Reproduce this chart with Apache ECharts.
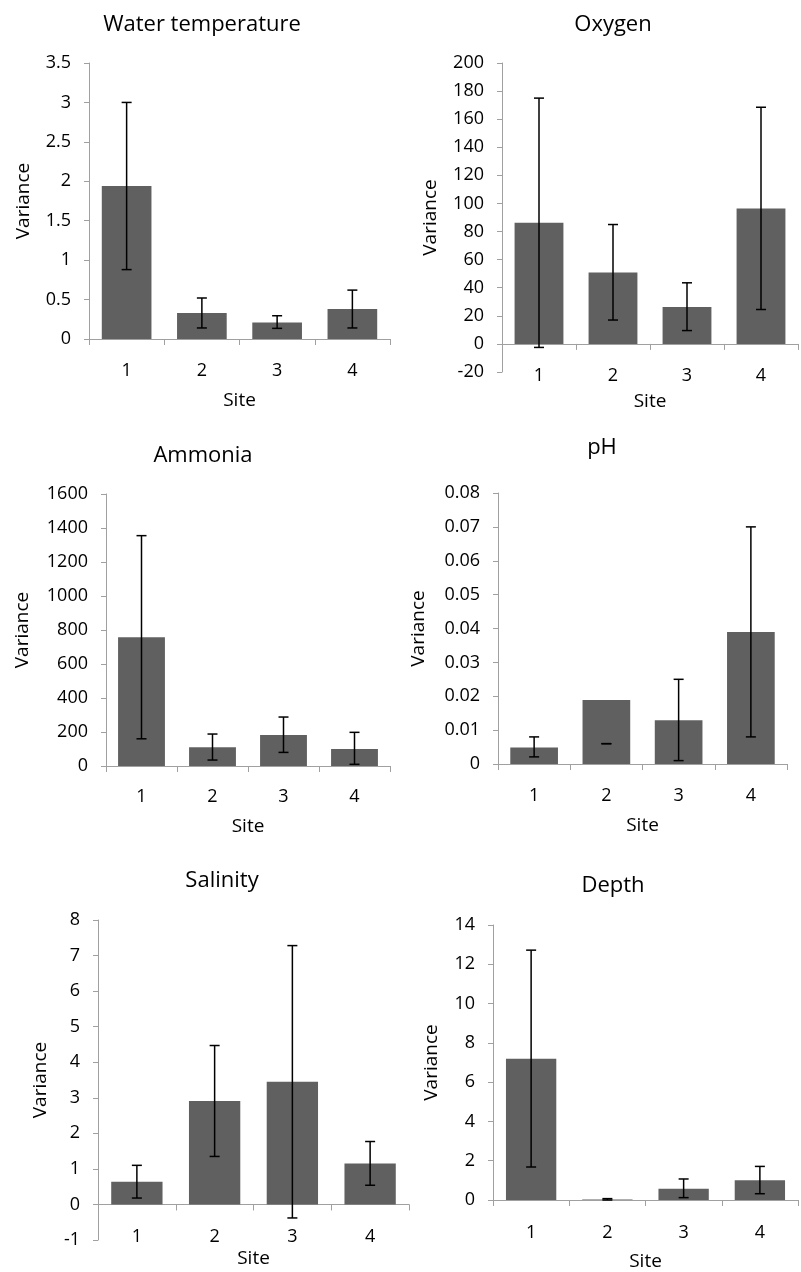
<!DOCTYPE html>
<html>
<head>
<meta charset="utf-8">
<script src="https://cdn.jsdelivr.net/npm/echarts@6/dist/echarts.min.js"></script>
<style>
  html, body { margin: 0; padding: 0; background: #fff; }
  #chart { width: 801px; height: 1272px; }
</style>
</head>
<body>
<div id="chart"></div>
<script>
const sites = ['1', '2', '3', '4']

// variance per site and the ends of each error bar
const tempVar = [1.94, 0.33, 0.21, 0.38]
const tempLow = [0.88, 0.14, 0.135, 0.14]
const tempHigh = [3.0, 0.52, 0.295, 0.62]

const oxyVar = [86.3, 50.9, 26.3, 96.4]
const oxyLow = [-2.5, 17, 9.5, 24.5]
const oxyHigh = [175, 85, 43.5, 168.5]

const ammVar = [758, 110, 182, 100]
const ammLow = [160, 35, 80, 10]
const ammHigh = [1355, 188, 288, 198]

const phVar = [0.0049, 0.0189, 0.0129, 0.039]
const phLow = [0.0021, 0.006, 0.001, 0.008]
const phHigh = [0.008, 0.006, 0.025, 0.07]

const salVar = [0.64, 2.91, 3.45, 1.15]
const salLow = [0.18, 1.35, -0.38, 0.54]
const salHigh = [1.1, 4.47, 7.28, 1.77]

const depVar = [7.19, 0.03, 0.57, 1.01]
const depLow = [1.68, 0.0, 0.12, 0.32]
const depHigh = [12.72, 0.07, 1.07, 1.71]

const panels = [
  {title: 'Water temperature', values: tempVar, low: tempLow, high: tempHigh, min: 0, max: 3.5, step: 0.5},
  {title: 'Oxygen', values: oxyVar, low: oxyLow, high: oxyHigh, min: -20, max: 200, step: 20},
  {title: 'Ammonia', values: ammVar, low: ammLow, high: ammHigh, min: 0, max: 1600, step: 200},
  {title: 'pH', values: phVar, low: phLow, high: phHigh, min: 0, max: 0.08, step: 0.01},
  {title: 'Salinity', values: salVar, low: salLow, high: salHigh, min: -1, max: 8, step: 1},
  {title: 'Depth', values: depVar, low: depLow, high: depHigh, min: 0, max: 14, step: 2}
]

// plot boxes and text placement, in page pixels (label/name gaps from the plot bottom)
const layout = [
  {left: 89, top: 63, width: 301, height: 276, titleX: 197, titleY: 9, yGap: 56, labelGap: 23, xGap: 52},
  {left: 502, top: 63, width: 296, height: 309, titleX: 608, titleY: 9, yGap: 62, labelGap: -5, xGap: 20},
  {left: 106, top: 494, width: 284, height: 272, titleX: 198, titleY: 440, yGap: 74, labelGap: 22, xGap: 51},
  {left: 498, top: 493, width: 289, height: 271, titleX: 597, titleY: 432, yGap: 70, labelGap: 23, xGap: 52},
  {left: 98, top: 920, width: 311, height: 320, titleX: 217, titleY: 865, yGap: 48, labelGap: -12, xGap: 9},
  {left: 493, top: 925, width: 305, height: 278, titleX: 608, titleY: 870, yGap: 52, labelGap: 24, xGap: 52}
]

const FONT = 'Open Sans'
const axisGrey = '#a0a0a0'

function renderError (params, api) {
  let i = api.value(0)
  let top = api.coord([i, api.value(2)])
  let bottom = api.coord([i, api.value(1)])
  let half = 5
  let style = {stroke: '#000', lineWidth: 1.5}
  return {
    type: 'group',
    children: [
      {type: 'line', shape: {x1: top[0], y1: top[1], x2: bottom[0], y2: bottom[1]}, style: style},
      {type: 'line', shape: {x1: top[0] - half, y1: top[1], x2: top[0] + half, y2: top[1]}, style: style},
      {type: 'line', shape: {x1: bottom[0] - half, y1: bottom[1], x2: bottom[0] + half, y2: bottom[1]}, style: style}
    ]
  }
}

let option = {
  animation: false,
  backgroundColor: '#fff',
  title: [],
  grid: [],
  xAxis: [],
  yAxis: [],
  series: []
}

panels.forEach(function (p, k) {
  let l = layout[k]
  let bottomLine = p.min === 0
  option.title.push({
    text: p.title,
    left: l.titleX,
    top: l.titleY,
    textAlign: 'center',
    textStyle: {fontFamily: FONT, fontSize: 22, fontWeight: 'normal', color: '#000'}
  })
  option.grid.push({left: l.left, top: l.top, width: l.width, height: l.height})
  // labelled axis sits at the bottom of the box
  let xIndex = option.xAxis.length
  option.xAxis.push({
    type: 'category',
    gridIndex: k,
    position: 'bottom',
    data: sites,
    name: 'Site',
    nameLocation: 'middle',
    nameGap: l.xGap,
    nameMoveOverlap: false,
    nameTextStyle: {fontFamily: FONT, fontSize: 19, color: '#000'},
    axisLine: {show: bottomLine, onZero: false, lineStyle: {color: axisGrey, width: 1}},
    axisTick: {show: bottomLine, length: 6, lineStyle: {color: axisGrey}},
    axisLabel: {margin: l.labelGap, fontFamily: FONT, fontSize: 18, color: '#000'}
  })
  // when the scale goes below zero, the axis line crosses at zero
  if (!bottomLine) {
    option.xAxis.push({
      type: 'category',
      gridIndex: k,
      position: 'bottom',
      data: sites,
      axisLine: {show: true, onZero: true, lineStyle: {color: axisGrey, width: 1}},
      axisTick: {show: true, length: 6, lineStyle: {color: axisGrey}},
      axisLabel: {show: false}
    })
  }
  option.yAxis.push({
    type: 'value',
    gridIndex: k,
    min: p.min,
    max: p.max,
    interval: p.step,
    name: 'Variance',
    nameLocation: 'middle',
    nameGap: l.yGap,
    nameTextStyle: {fontFamily: FONT, fontSize: 19, color: '#000'},
    splitLine: {show: false},
    axisLine: {show: true, onZero: false, lineStyle: {color: axisGrey, width: 1}},
    axisTick: {show: true, length: 5, lineStyle: {color: axisGrey}},
    axisLabel: {
      margin: 18,
      fontFamily: FONT,
      fontSize: 18,
      color: '#000',
      formatter: function (v) { return String(+v.toFixed(4)) }
    }
  })
  option.series.push({
    type: 'bar',
    xAxisIndex: xIndex,
    yAxisIndex: k,
    data: p.values,
    barCategoryGap: '34%',
    itemStyle: {color: '#606060'}
  })
  option.series.push({
    type: 'custom',
    xAxisIndex: xIndex,
    yAxisIndex: k,
    renderItem: renderError,
    encode: {x: 0, y: [1, 2]},
    data: p.values.map(function (v, i) { return [i, p.low[i], p.high[i]] }),
    z: 5
  })
})

let myChart = echarts.init(document.getElementById('chart'))
myChart.setOption(option)
</script>
</body>
</html>
